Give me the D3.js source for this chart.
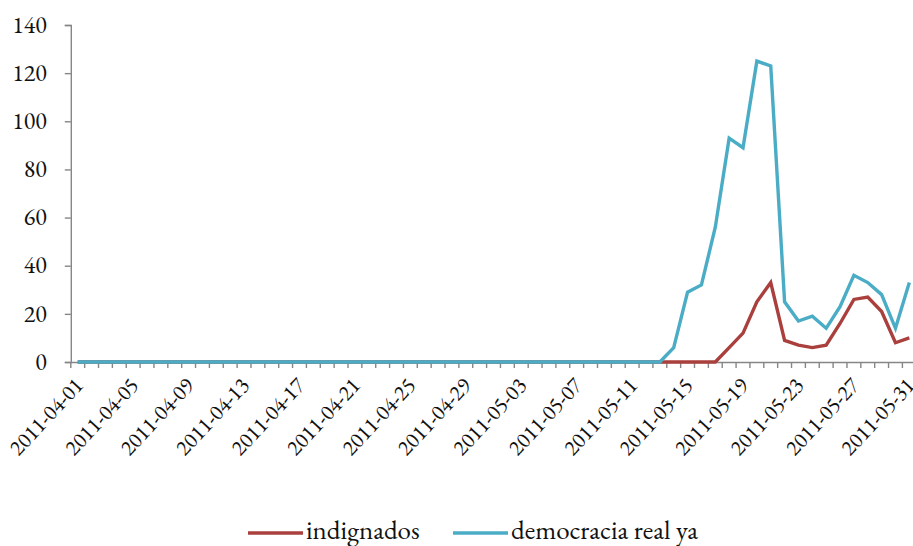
<!DOCTYPE html>
<html><head><meta charset="utf-8">
<script src="https://cdn.jsdelivr.net/npm/d3@7"></script>
<style>
body{margin:0;background:#fff;}
svg{display:block;}
</style></head>
<body><svg id="c" width="913" height="546"></svg>
<script>
// Dates 2011-04-01 .. 2011-05-31
const dates = [];
for (let d = new Date(2011,3,1); d <= new Date(2011,4,31); d.setDate(d.getDate()+1)) {
  dates.push(d3.timeFormat("%Y-%m-%d")(d));
}
const seriesNames = ["indignados", "democracia real ya"];
// values from 2011-05-13 onward; earlier days are 0
const indignadosTail = [0,0,0,0,0,6,12,25,33,9,7,6,7,16,26,27,21,8,10];
const democraciaTail = [0,6,29,32,56,93,89,125,123,25,17,19,14,23,36,33,28,14,33];
const indignados = Array(dates.length - indignadosTail.length).fill(0).concat(indignadosTail);
const democracia = Array(dates.length - democraciaTail.length).fill(0).concat(democraciaTail);
const yTicks = [0,20,40,60,80,100,120,140];
const colors = ["#A9403D", "#4BACC6"];

const FONT = '"EB Garamond","Liberation Serif",serif';
const svg = d3.select("#c");
const x0 = 70.8, band = 13.86;
const x = d3.scaleBand().domain(dates).range([x0, x0 + band*dates.length]).paddingInner(0).paddingOuter(0);
const y = d3.scaleLinear().domain([0,140]).range([362,25]);
const axisColor = "#868686";

// Y axis
const ya = svg.append("g").attr("transform", `translate(${x0},0)`)
  .call(d3.axisLeft(y).tickValues(yTicks).tickSize(6).tickPadding(18).tickFormat(d3.format("d")));
ya.select(".domain").attr("stroke", axisColor).attr("stroke-width", 1.4);
ya.selectAll(".tick line").attr("stroke", axisColor).attr("stroke-width", 1.4);
ya.selectAll("text").style("font-family", FONT).attr("font-size", 24).attr("fill", "#111").attr("dy","0.3em");

// X axis
const xa = svg.append("g").attr("transform", `translate(0,${y(0)})`)
  .call(d3.axisBottom(x).tickSize(0).tickFormat(""));
xa.select(".domain").attr("stroke", axisColor).attr("stroke-width", 1.4);
xa.selectAll(".tick").remove();
// boundary ticks
const bounds = d3.range(dates.length + 1);
xa.selectAll("line.b").data(bounds).enter().append("line")
  .attr("x1", i => x0 + i*band).attr("x2", i => x0 + i*band)
  .attr("y1", 0).attr("y2", 6).attr("stroke", axisColor).attr("stroke-width", 1.4);
// labels every 4 days
const labelDates = dates.filter((d,i) => i % 4 === 0);
svg.append("g").selectAll("text").data(labelDates).enter().append("text")
  .attr("transform", d => `translate(${x(d) + x.bandwidth()/2 + 1},${y(0) + 19}) rotate(-47)`)
  .attr("text-anchor", "end").attr("dy", "0.35em")
  .style("font-family", FONT).attr("font-size", 22).attr("fill", "#111").text(d => d);

// Lines
const line = d3.line().x((d,i) => x(dates[i]) + x.bandwidth()/2).y(d => y(d));
[indignados, democracia].forEach((s, k) => {
  svg.append("path").datum(s).attr("d", line).attr("fill", "none")
    .attr("stroke", colors[k]).attr("stroke-width", 3.4).attr("stroke-linejoin","miter");
});

// Legend
const legendX = [248, 453];
seriesNames.forEach((n, k) => {
  const g = svg.append("g").attr("transform", `translate(${legendX[k]},533)`);
  g.append("line").attr("x1",0).attr("x2",55).attr("y1",0).attr("y2",0)
    .attr("stroke", colors[k]).attr("stroke-width", 3.4);
  g.append("text").attr("x", 58).attr("y", 0).attr("dy","0.22em")
    .style("font-family", FONT).attr("font-size", 27).attr("fill","#111").text(n);
});
</script></body></html>
